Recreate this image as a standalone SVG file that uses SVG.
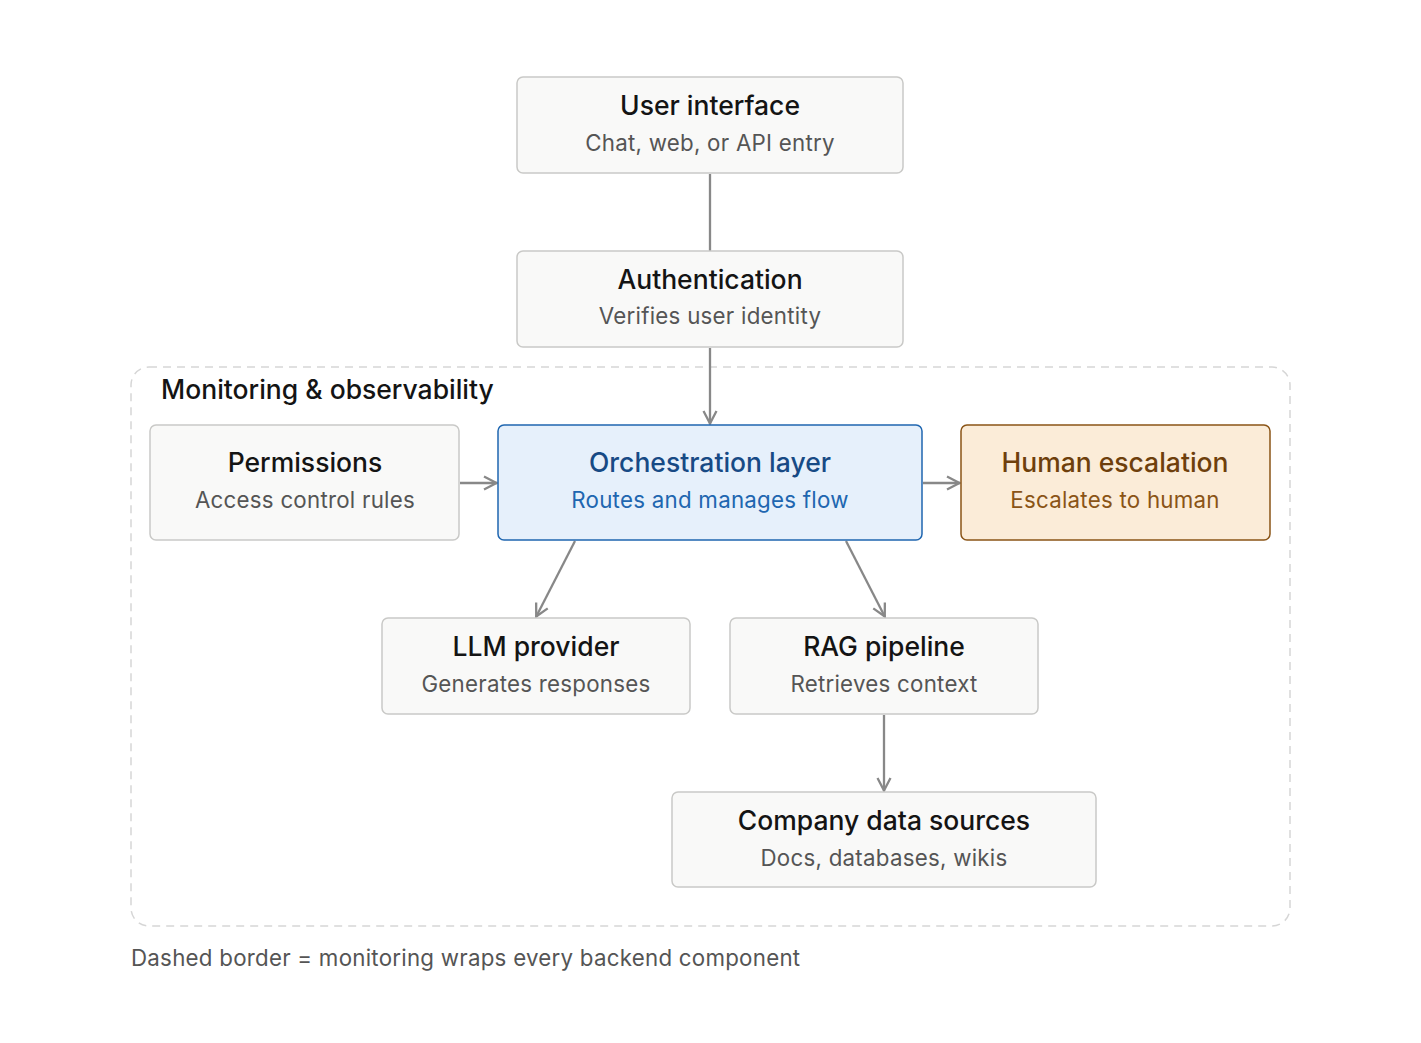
<svg xmlns="http://www.w3.org/2000/svg" width="1421" height="1043" viewBox="0 0 1421 1043">
<style>
.box{fill:#f9f9f8;stroke:#c9c9c7;stroke-width:1.5}
.t{font-family:Inter,"Noto Sans",sans-serif;font-size:26.5px;font-weight:500;fill:#141414;text-anchor:middle}
.s{font-family:Inter,"Noto Sans",sans-serif;font-size:22.3px;letter-spacing:0.25px;fill:#555;text-anchor:middle}
.c{stroke:#888;stroke-width:2.3;fill:none}
</style>
<defs>
<marker id="ah" viewBox="0 0 16 16" refX="15" refY="8" markerWidth="16" markerHeight="16" markerUnits="userSpaceOnUse" orient="auto">
<path d="M2,1.5 L14.5,8 L2,14.5" fill="none" stroke="#888" stroke-width="2.3"/>
</marker>
</defs>
<rect width="1421" height="1043" fill="#fff"/>
<g id="monitoring">
<rect x="131" y="367" width="1159" height="559" rx="18" fill="none" stroke="#d6d6d6" stroke-width="1.5" stroke-dasharray="8 6"/>
<text x="161" y="399" font-family="Inter,'Noto Sans',sans-serif" font-size="26.5" font-weight="500" fill="#141414">Monitoring &amp; observability</text>
</g>
<g id="connectors">
<line class="c" x1="710" y1="174" x2="710" y2="251"/>
<line class="c" x1="710" y1="348" x2="710" y2="424" marker-end="url(#ah)"/>
<line class="c" x1="460" y1="483" x2="497" y2="483" marker-end="url(#ah)"/>
<line class="c" x1="923" y1="483" x2="960" y2="483" marker-end="url(#ah)"/>
<line class="c" x1="575" y1="541" x2="536" y2="617" marker-end="url(#ah)"/>
<line class="c" x1="846" y1="541" x2="885" y2="617" marker-end="url(#ah)"/>
<line class="c" x1="884" y1="715" x2="884" y2="791" marker-end="url(#ah)"/>
</g>
<g id="user-interface">
<rect class="box" x="517" y="77" width="386" height="96" rx="6"/>
<text class="t" x="710" y="115">User interface</text>
<text class="s" x="710" y="151">Chat, web, or API entry</text>
</g>
<g id="authentication">
<rect class="box" x="517" y="251" width="386" height="96" rx="6"/>
<text class="t" x="710" y="289">Authentication</text>
<text class="s" x="710" y="324">Verifies user identity</text>
</g>
<g id="permissions">
<rect class="box" x="150" y="425" width="309" height="115" rx="6"/>
<text class="t" x="305" y="472">Permissions</text>
<text class="s" x="305" y="508">Access control rules</text>
</g>
<g id="orchestration">
<rect x="498" y="425" width="424" height="115" rx="6" fill="#e6f0fb" stroke="#1f66b0" stroke-width="1.5"/>
<text class="t" x="710" y="472" style="fill:#174a85">Orchestration layer</text>
<text class="s" x="710" y="508" style="fill:#2066b0">Routes and manages flow</text>
</g>
<g id="human-escalation">
<rect x="961" y="425" width="309" height="115" rx="6" fill="#fbecd8" stroke="#8a5416" stroke-width="1.5"/>
<text class="t" x="1115" y="472" style="fill:#6e3f0c">Human escalation</text>
<text class="s" x="1115" y="508" style="fill:#8a5416">Escalates to human</text>
</g>
<g id="llm-provider">
<rect class="box" x="382" y="618" width="308" height="96" rx="6"/>
<text class="t" x="536" y="656">LLM provider</text>
<text class="s" x="536" y="692">Generates responses</text>
</g>
<g id="rag-pipeline">
<rect class="box" x="730" y="618" width="308" height="96" rx="6"/>
<text class="t" x="884" y="656">RAG pipeline</text>
<text class="s" x="884" y="692">Retrieves context</text>
</g>
<g id="company-data">
<rect class="box" x="672" y="792" width="424" height="95" rx="6"/>
<text class="t" x="884" y="830">Company data sources</text>
<text class="s" x="884" y="866">Docs, databases, wikis</text>
</g>
<text x="131" y="966" font-family="Inter,'Noto Sans',sans-serif" font-size="22.3" letter-spacing="0.25" fill="#555">Dashed border = monitoring wraps every backend component</text>
</svg>
